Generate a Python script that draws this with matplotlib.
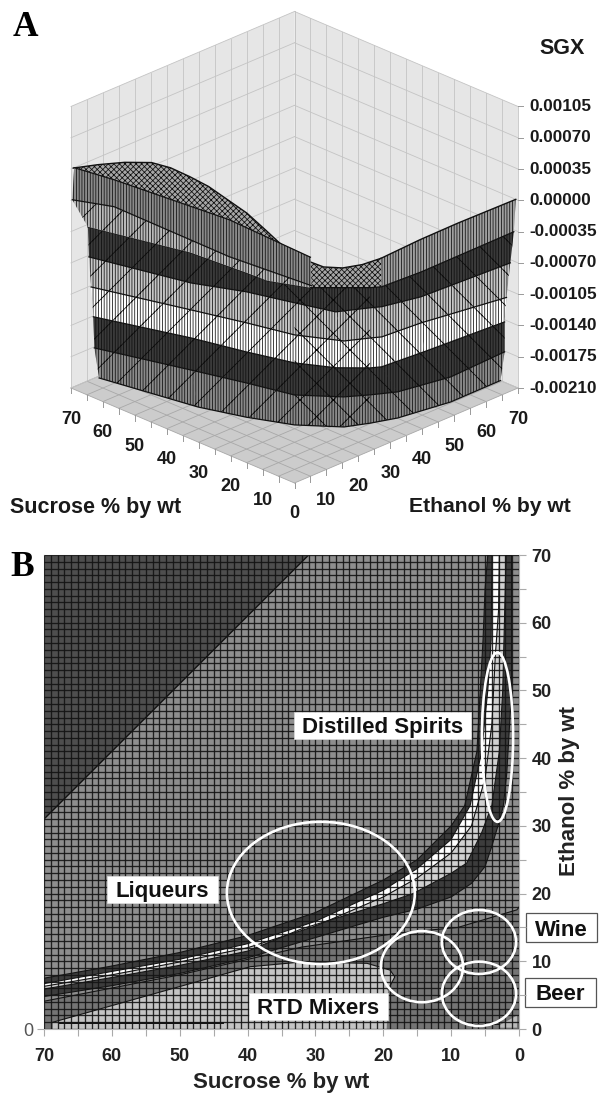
import numpy as np
import matplotlib
matplotlib.use("Agg")
import matplotlib.pyplot as plt
from matplotlib.patches import Ellipse, Rectangle
from mpl_toolkits.mplot3d import proj3d
from mpl_toolkits.mplot3d.art3d import Poly3DCollection

W, H = 599, 1093

# panel A: axis values
sgx_ticks = [-0.0021, -0.00175, -0.0014, -0.00105, -0.0007, -0.00035, 0.0, 0.00035, 0.0007, 0.00105]
sgx_labels = ["-0.00210", "-0.00175", "-0.00140", "-0.00105", "-0.00070", "-0.00035",
              "0.00000", "0.00035", "0.00070", "0.00105"]
pct_ticks = [0, 10, 20, 30, 40, 50, 60, 70]

# panel A: iso-SGX curves on the cliff (sucrose, ethanol at each level)
lev_z = [-0.0021, -0.00175, -0.0014, -0.00105, -0.0007, -0.00035]
lev_s = [
    [69.3, 43.1, 31.8, 21.4, 12.9, 10.2, 7.8, 5.4, 5.5],
    [69.6, 46.3, 32.9, 20.9, 12.5, 9.1, 5.9, 3.1, 3.9],
    [69.7, 46.6, 32.8, 21.2, 12.9, 7.5, 6.1, 5.0, 3.4],
    [69.5, 45.4, 32.0, 20.0, 10.0, 7.0, 5.6, 4.6, 0.6],
    [69.4, 43.8, 31.9, 20.3, 10.5, 6.6, 5.2, 2.7, 1.2],
    [69.1, 43.4, 27.4, 21.2, 12.0, 2.5, 1.0, 0.3, 0.6],
]
lev_e = [
    [8.1, 12.9, 16.7, 21.4, 28.4, 33.9, 40.1, 54.3, 70.0],
    [6.9, 13.9, 17.8, 20.9, 27.9, 32.8, 38.2, 52.0, 69.7],
    [6.7, 14.2, 17.7, 21.2, 25.9, 31.2, 33.4, 45.6, 69.2],
    [5.8, 13.0, 16.9, 20.0, 25.5, 30.7, 32.9, 44.2, 67.0],
    [5.0, 11.4, 16.8, 20.3, 23.4, 30.3, 32.5, 42.3, 68.8],
    [4.4, 11.0, 12.3, 12.6, 16.7, 26.2, 28.3, 39.9, 69.3],
]
# strip along the upper left: z = 0 and z = 0.00035
strip0_s = [70.0, 60.9, 24.5, 0.8]
strip0_e = [0.4, 4.4, 4.0, 6.2]
strip1_s = [70.0, 59.3, 26.6, 0.0]
strip1_e = [1.0, 2.8, 6.1, 5.0]

# far edge of the surface: along sucrose = 70, then along ethanol = 70
back1_e = [0.7, 8.5, 16.8, 25.2, 31.2, 37.2, 43.1, 49.1, 55.1, 61.0, 67.0]
back1_z = [0.00035, 0.00027, 0.00017, 0.00004, -0.00011, -0.0003, -0.0005, -0.00074, -0.00098, -0.00126, -0.00155]
back2_s = [66.9, 60.9, 54.9, 48.8, 42.9, 30.8, 18.8, 0.7]
back2_z = [-0.00168, -0.00167, -0.00159, -0.00146, -0.0013, -0.00091, -0.00054, 0.0]

# panel B: contour band edges (sucrose, ethanol)
top_tri_s = [70, 70, 31]
top_tri_e = [70, 31, 70]
u_s = [70, 60, 50, 40, 30, 20, 15, 10, 8, 6.2, 5.3, 5, 4.6]
u_e = [7.5, 9.3, 11.3, 13.8, 17.2, 22, 25, 30, 33, 41, 57.5, 65, 70]
a_s = [70, 60, 50, 40, 30, 20, 15, 10, 7.2, 5.5, 4.6, 4.1, 4]
a_e = [6.7, 8.5, 10.3, 12.6, 15.9, 20.5, 23.7, 28, 33, 41, 50, 57.5, 70]
d_s = [70, 60, 50, 40, 30, 20, 15, 10, 7, 5, 4, 3.5, 3, 2.9]
d_e = [6.3, 8, 9.9, 12, 15.2, 19.5, 22.3, 26, 30, 37, 45, 55, 62, 70]
b_s = [70, 60, 50, 40, 32, 20, 15.6, 10, 7.7, 5.5, 4, 2.9, 2.4, 1.9]
b_e = [5.9, 7.6, 9.4, 11.5, 14.8, 18.5, 20, 23, 24.5, 29, 33, 41, 50, 70]
c_s = [70, 60, 50, 40, 32, 20, 15, 10, 7, 5, 4, 2.8, 2.3, 1.8, 1.1, 1.1]
c_e = [4.8, 6.4, 8.2, 10.5, 12.9, 16.5, 17.7, 19.5, 21.5, 24, 27, 31, 33, 37.8, 50, 70]
low_s = [70, 50, 32, 17.5, 9, 0.3, 0]
low_e = [4.1, 8.0, 12.1, 14.2, 15.0, 17.6, 18]
rtd_s = [68.7, 39.6, 32, 22.4, 19, 18.3, 19.3, 19.5, 68.7]
rtd_e = [1, 9.2, 9.9, 9.7, 8.7, 7.7, 5.8, 0, 0]
corner_s = [2.8, 0.3, 0.3, 2.8]
corner_e = [0.2, 0.2, 2.0, 0.6]

# ellipses: centre sucrose, centre ethanol, width, height
ell_s = [29.2, 3.17, 14.3, 5.9, 5.9]
ell_e = [20.1, 43.1, 9.2, 12.85, 5.2]
ell_w = [27.7, 4.6, 12.1, 10.95, 10.95]
ell_h = [21.0, 25.0, 10.5, 9.45, 9.5]

plt.rcParams["font.family"] = ["Liberation Sans", "DejaVu Sans"]
plt.rcParams["hatch.linewidth"] = 0.55

fig = plt.figure(figsize=(W / 100, H / 100), dpi=100)


def fig_text(px, py, txt, **kw):
    fig.text(px / W, 1 - py / H, txt, **kw)


# ---------- panel A ----------
ax3 = fig.add_axes([0.0, 0.5, 1.0, W / H], projection="3d", proj_type="ortho", computed_zorder=False)
ax3.set_axis_off()
ax3.patch.set_alpha(0)
ax3.view_init(elev=25.15, azim=-135)
ax3.set_box_aspect((314, 314, 309))

zmin, zmax = -0.0021, 0.00105


def add_poly(xs, ys, zs, face, z, hatch=None, edge="none", lw=0.0):
    verts = [list(zip(xs, ys, zs))]
    if hatch:
        p = Poly3DCollection(verts, facecolors=[(0, 0, 0, 0)], edgecolors=[(0.05, 0.05, 0.05, 1)],
                             linewidths=0, hatch=hatch, zorder=z)
    else:
        p = Poly3DCollection(verts, facecolors=face, edgecolors=edge, linewidths=lw, zorder=z)
    ax3.add_collection3d(p, autolim=False)


# walls and floor
add_poly([0, 70, 70, 0], [0, 0, 70, 70], [zmin] * 4, "#cccccc", 1)
add_poly([0, 70, 70, 0], [70, 70, 70, 70], [zmin, zmin, zmax, zmax], "#e6e6e6", 1)
add_poly([70, 70, 70, 70], [0, 70, 70, 0], [zmin, zmin, zmax, zmax], "#e6e6e6", 1)
grid_c = "#c4c4c4"
for v in np.arange(0, 71, 5):
    ax3.plot([v, v], [70, 70], [zmin, zmax], color=grid_c, lw=0.6, zorder=2)
    ax3.plot([70, 70], [v, v], [zmin, zmax], color=grid_c, lw=0.6, zorder=2)
    ax3.plot([v, v], [0, 70], [zmin, zmin], color="#a8a8a8", lw=0.6, zorder=2)
    ax3.plot([0, 70], [v, v], [zmin, zmin], color="#a8a8a8", lw=0.6, zorder=2)
    # ticks under the floor edges
    ax3.plot([v, v], [0, 0], [zmin, zmin - 0.00006], color="#999999", lw=0.7, zorder=2)
    ax3.plot([0, 0], [v, v], [zmin, zmin - 0.00006], color="#999999", lw=0.7, zorder=2)
for t in sgx_ticks:
    ax3.plot([0, 70], [70, 70], [t, t], color=grid_c, lw=0.6, zorder=2)
    ax3.plot([70, 70], [0, 70], [t, t], color=grid_c, lw=0.6, zorder=2)
    ax3.plot([70, 70.8], [0, -0.8], [t, t], color="#999999", lw=0.7, zorder=2)

# far part of the surface, seen above the cliff
sil_x = list(back1_e) + [70] * len(back2_s)
sil_y = [70] * len(back1_e) + list(back2_s)
sil_z = list(back1_z) + list(back2_z)
n_dome = len(back1_e) + 5
dome_x = sil_x[:n_dome] + lev_e[5][6:3:-1] + strip1_e[::-1]
dome_y = sil_y[:n_dome] + lev_s[5][6:3:-1] + strip1_s[::-1]
dome_z = sil_z[:n_dome] + [lev_z[5]] * 3 + [0.00035] * 4
add_poly(dome_x, dome_y, dome_z, "#a6a6a6", 3)
add_poly(dome_x, dome_y, dome_z, None, 4, hatch="xxxxxx")
ax3.plot(sil_x[:n_dome], sil_y[:n_dome], sil_z[:n_dome], color="#111111", lw=1.0, zorder=5)

# right hand part between silhouette and the top cliff curve
rb_x = sil_x[n_dome - 1:] + lev_e[5][:5:-1]
rb_y = sil_y[n_dome - 1:] + lev_s[5][:5:-1]
rb_z = sil_z[n_dome - 1:] + [lev_z[5]] * 3
add_poly(rb_x, rb_y, rb_z, "#a0a0a0", 6)
add_poly(rb_x, rb_y, rb_z, None, 7, hatch="||||||")
ax3.plot(sil_x[n_dome - 1:], sil_y[n_dome - 1:], sil_z[n_dome - 1:], color="#111111", lw=1.0, zorder=7)

# cliff bands
band_fill = ["#8a8a8a", "#3a3a3a", "#ffffff", "#c6c6c6", "#3a3a3a"]
seg_hatch = ["||||||/", "||||||/", "||||||/", "||||||x", "||||||x", "||||||\\", "||||||\\", "||||||\\"]
n_col = len(lev_s[0])
for k in range(5):
    xs = lev_e[k] + lev_e[k + 1][::-1]
    ys = lev_s[k] + lev_s[k + 1][::-1]
    zs = [lev_z[k]] * n_col + [lev_z[k + 1]] * n_col
    add_poly(xs, ys, zs, band_fill[k], 10)
    for i in range(n_col - 1):
        qx = [lev_e[k][i], lev_e[k][i + 1], lev_e[k + 1][i + 1], lev_e[k + 1][i]]
        qy = [lev_s[k][i], lev_s[k][i + 1], lev_s[k + 1][i + 1], lev_s[k + 1][i]]
        qz = [lev_z[k], lev_z[k], lev_z[k + 1], lev_z[k + 1]]
        add_poly(qx, qy, qz, None, 11, hatch=seg_hatch[i])
for k in range(6):
    ax3.plot(lev_e[k], lev_s[k], [lev_z[k]] * n_col, color="#111111", lw=0.9, zorder=12)

# strip bands at the upper left
xs = strip0_e + lev_e[5][4::-1]
ys = strip0_s + lev_s[5][4::-1]
zs = [0.0] * 4 + [lev_z[5]] * 5
add_poly(xs, ys, zs, "#b8b8b8", 13)
add_poly(xs, ys, zs, None, 14, hatch="||||||/")
xs = strip1_e + strip0_e[::-1]
ys = strip1_s + strip0_s[::-1]
zs = [0.00035] * 4 + [0.0] * 4
add_poly(xs, ys, zs, "#8a8a8a", 15)
add_poly(xs, ys, zs, None, 16, hatch="||||||")
ax3.plot(strip0_e, strip0_s, [0.0] * 4, color="#111111", lw=0.9, zorder=17)
ax3.plot(strip1_e, strip1_s, [0.00035] * 4, color="#111111", lw=0.9, zorder=17)

ax3.set_xlim(0, 70)
ax3.set_ylim(0, 70)
ax3.set_zlim(zmin, zmax)


def to_px(e, s, z):
    x2, y2, _ = proj3d.proj_transform(e, s, z, ax3.get_proj())
    return ax3.transData.transform((x2, y2))


# fit the box to the wanted pixel position
for _ in range(3):
    fig.canvas.draw()
    p0 = to_px(0, 0, zmin)
    p1 = to_px(70, 0, zmin)
    scale = (518 - 294.5) / (p1[0] - p0[0])
    pos = ax3.get_position()
    new_w = pos.width * scale
    new_h = pos.height * scale
    cx = pos.x0 + pos.width / 2 + ((294.5 - p0[0]) / W) - (scale - 1) * (p0[0] / W - pos.x0 - pos.width / 2)
    cy = pos.y0 + pos.height / 2 + ((H - 483 - p0[1]) / H) - (scale - 1) * (p0[1] / H - pos.y0 - pos.height / 2)
    ax3.set_position([cx - new_w / 2, cy - new_h / 2, new_w, new_h])
fig.canvas.draw()

# tick labels, placed from the projected chart positions
lab_c = "#1a1a1a"
for t, lab in zip(sgx_ticks, sgx_labels):
    p = to_px(70, 0, t)
    fig.text((p[0] + 11) / W, p[1] / H, lab, fontsize=12.3, fontweight="bold", color=lab_c, ha="left", va="center")
for v in pct_ticks:
    p = to_px(0, v, zmin)
    fig.text(p[0] / W, (p[1] - 31) / H, str(v), fontsize=13, fontweight="bold", color=lab_c, ha="center", va="center")
    if v > 0:
        p = to_px(v, 0, zmin)
        fig.text(p[0] / W, (p[1] - 31) / H, str(v), fontsize=13, fontweight="bold", color=lab_c, ha="center", va="center")

fig_text(562, 49, "SGX", fontsize=15.5, fontweight="bold", color=lab_c, ha="center", va="center")
fig_text(96, 507, "Sucrose % by wt", fontsize=15.5, fontweight="bold", color=lab_c, ha="center", va="center")
fig_text(490, 507, "Ethanol % by wt", fontsize=15.2, fontweight="bold", color=lab_c, ha="center", va="center")
fig_text(25, 27, "A", fontsize=25.5, fontweight="bold", family="Liberation Serif", ha="center", va="center")
fig_text(22, 568, "B", fontsize=25.5, fontweight="bold", family="Liberation Serif", ha="center", va="center")

# ---------- panel B ----------
ax = fig.add_axes([44 / W, 1 - 1029 / H, 475 / W, 474 / H], facecolor="#8e8e8e")
ax.set_xlim(70, 0)
ax.set_ylim(0, 70)


def fill_curves(x1, y1, x2, y2, color, z=2):
    ax.fill(list(x1) + list(x2)[::-1], list(y1) + list(y2)[::-1], color=color, lw=0, zorder=z)


ax.fill(top_tri_s, top_tri_e, color="#4e4e4e", lw=0, zorder=2)
ax.plot(top_tri_s[1:], top_tri_e[1:], color="#111111", lw=1.0, zorder=2.5)
fill_curves(low_s, low_e, [70, 0], [0, 0], "#747474")
ax.fill(rtd_s, rtd_e, color="#c4c4c4", lw=0, zorder=2.2)
ax.fill(corner_s, corner_e, color="#bbbbbb", lw=0, zorder=2.2)
fill_curves(u_s, u_e, c_s, c_e, "#3c3c3c", 3)
fill_curves(a_s, a_e, d_s, d_e, "#ffffff", 3.1)
fill_curves(d_s, d_e, b_s, b_e, "#d0d0d0", 3.1)
for xs, ys in [(u_s, u_e), (a_s, a_e), (d_s, d_e), (b_s, b_e), (c_s, c_e), (low_s, low_e), (rtd_s[:7], rtd_e[:7])]:
    ax.plot(xs, ys, color="#161616", lw=0.8, zorder=3.5)
ax.plot([67.6, 43.6], [0.93, 0.93], color="#111111", lw=1.4, zorder=3.5)
ax.plot([7.5, 3], [0.6, 0.7], color="#111111", lw=0.9, zorder=3.5)

mesh = np.arange(0, 71)
ax.vlines(mesh, 0, 70, colors="#141414", lw=0.95, alpha=0.9, zorder=4)
ax.hlines(mesh, 0, 70, colors="#141414", lw=0.95, alpha=0.9, zorder=4)

for s0, e0, w, h in zip(ell_s, ell_e, ell_w, ell_h):
    ax.add_patch(Ellipse((s0, e0), w, h, fc="none", ec="white", lw=1.9, zorder=5))


def label_box(txt, x0, x1, y0, y1, edge, lw):
    # box given in pixels of the picture, converted to axis fractions
    fx0, fx1 = (x0 - 44) / 475, (x1 - 44) / 475
    fy0, fy1 = (1029 - y1) / 474, (1029 - y0) / 474
    ax.add_patch(Rectangle((fx0, fy0), fx1 - fx0, fy1 - fy0, transform=ax.transAxes, fc="white", ec=edge, lw=lw,
                           zorder=6, clip_on=False))
    ax.text((fx0 + fx1) / 2, (fy0 + fy1) / 2, txt, transform=ax.transAxes, fontsize=16, fontweight="bold",
            color="#111111", ha="center", va="center_baseline", zorder=7)


label_box("Distilled Spirits", 294, 471, 712, 739, "#dddddd", 0.5)
label_box("Liqueurs", 107, 218, 876, 903, "#dddddd", 0.5)
label_box("RTD Mixers", 249, 388, 993, 1020, "#dddddd", 0.5)
label_box("Wine", 526, 597, 913, 942, "#555555", 0.9)
label_box("Beer", 525, 596, 978, 1007, "#555555", 0.9)

for sp in ax.spines.values():
    sp.set_color("#b5b5b5")
    sp.set_linewidth(0.8)

ax.set_xticks(pct_ticks)
ax.set_xticklabels([str(v) for v in pct_ticks], fontsize=13, fontweight="bold", color="#222222")
ax.set_xticks(np.arange(5, 70, 10), minor=True)
ax.tick_params(axis="x", which="both", length=5, width=0.8, color="#aaaaaa", pad=9)
ax.set_yticks([0])
ax.set_yticklabels(["0"], fontsize=13, color="#555555")
ax.tick_params(axis="y", length=5, width=0.8, color="#aaaaaa", pad=3)
ax.set_xlabel("Sucrose % by wt", fontsize=16, fontweight="bold", color="#222222", va="baseline")
ax.xaxis.set_label_coords(0.5, -(1088 - 1029) / 474)

ax2 = ax.twinx()
ax2.set_ylim(0, 70)
ax2.set_yticks(pct_ticks)
ax2.set_yticklabels([str(v) for v in pct_ticks], fontsize=13, fontweight="bold", color="#222222")
ax2.set_yticks(np.arange(5, 70, 10), minor=True)
ax2.tick_params(axis="y", which="both", length=5, width=0.8, color="#aaaaaa", pad=4)
ax2.set_ylabel("Ethanol % by wt", fontsize=16, fontweight="bold", color="#222222")
ax2.yaxis.set_label_coords(1.085, (1029 - 791) / 474)
for sp in ax2.spines.values():
    sp.set_visible(False)

fig.savefig("out.png", dpi=100)
